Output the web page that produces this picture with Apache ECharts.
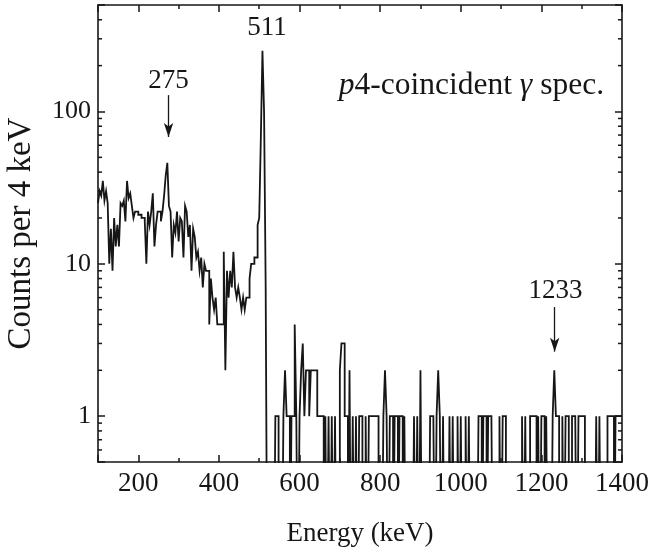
<!DOCTYPE html>
<html><head><meta charset="utf-8">
<script src="https://cdn.jsdelivr.net/npm/echarts@6/dist/echarts.min.js"></script>
<style>html,body{margin:0;padding:0;background:#fff}#c{width:648px;height:552px}</style>
</head><body><div id="c"></div>
<script>
// Histogram: 4 keV bins starting at 100 keV
const binStart = 100;
const binWidth = 4;
const energyMin = 100;
const energyMax = 1400;
// counts for 100-520 keV
const countsLow = [
 25,30,28,35,26,30,25,10,17,9,
 20,13,18,13,25,24,26,19,35,27,
 29,24,20,22,22,21,21,20,20,19,
 10,22,18,22,29,13,18,22,22,19,
 22,28,38,46,24,22,11,18,16,22,
 14,20,19,11,24,22,15,18,9,17,
 15,11,12,9,11,7,10,9,9,4,
 8,6,5,6,4,4,4,4,12,2,
 9,6,9,7,12,7,6,7,6,5,
 6,5,6,6,8,10,10,11,11,18,
 20,67,250,100,7
];
// counts for 520-1400 keV
const countsHigh = [
 0,0,0,0,0, 1,1,0,0,0, 1,2,1,1,0, 1,1,4,1,0,
 1,2,3,1,2, 2,1,2,2,2, 2,1,1,1,1, 0,1,0,1,0,
 1,0,1,0,0, 2,3,3,1,1, 0,2,0,1,0, 1,0,1,1,0,
 0,1,0,1,1, 1,1,1,1,0, 0,0,1,2,1, 0,1,1,0,1,
 1,0,1,1,0, 1,0,0,0,0, 0,1,0,1,0, 2,0,0,0,0,
 0,1,1,1,0, 1,2,1,0,1, 0,0,0,1,0, 1,0,0,1,0,
 1,0,0,1,0, 1,0,0,0,0, 0,1,1,0,1, 1,0,1,1,1,
 0,0,0,0,1, 0,1,1,0,0, 0,0,0,0,0, 0,0,0,1,0,
 1,0,0,1,1, 1,1,0,1,0, 1,1,0,1,0, 0,0,1,2,1,
 1,0,0,1,0, 1,1,0,0,1, 1,1,0,1,1, 1,1,0,0,0,
 0,0,0,0,1, 0,1,0,0,0, 0,1,1,1,1, 0,1,1,1,1
];
const xTickLabels = [200,400,600,800,1000,1200,1400];
const yTickLabels = [1,10,100];
const yMinorTicks = [0.6,0.7,0.8,0.9,2,3,4,5,6,7,8,9,20,30,40,50,60,70,80,90,200,300,400];
const peakLabels = [
  {text:'511', e:519, y:352},
  {text:'275', e:275, y:158},
  {text:'1233', e:1235, y:6.6}
];
const arrows = [
  {e:275, from:128, to:68},
  {e:1233, from:5.2, to:2.65}
];

const counts = countsLow.concat(countsHigh);
const FLOOR = 0.05; // zero counts are drawn below the log-axis minimum
// histogram outline: each bin contributes its left and right edge at its count
const histData = [];
counts.forEach((c,i) => {
  const y = c > 0 ? c : FLOOR;
  histData.push([binStart + i*binWidth, y]);
  histData.push([binStart + (i+1)*binWidth, y]);
});

const FONT = 'Liberation Serif';
const INK = '#161616';
const isDecade = v => { const l = Math.log10(v); return Math.abs(l - Math.round(l)) < 1e-6; };

const axisCommon = {
  axisLine:{show:true, onZero:false, lineStyle:{color:INK, width:1.6}},
  axisTick:{show:true, inside:true, length:7, lineStyle:{color:INK, width:1.5}},
  splitLine:{show:false}
};

const chart = echarts.init(document.getElementById('c'), null, {renderer:'canvas'});
chart.setOption({
  animation:false,
  backgroundColor:'#fff',
  grid:{left:98, right:26, top:5, bottom:90, containLabel:false, outerBoundsMode:'none'},
  title:{
    text:'{i|p}{n|4-coincident }{i|γ}{n| spec.}',
    right:39, top:65,
    textStyle:{fontWeight:'normal', rich:{
      i:{fontFamily:FONT, fontStyle:'italic', fontWeight:'normal', fontSize:31.5, color:INK},
      n:{fontFamily:FONT, fontWeight:'normal', fontSize:31.5, color:INK}
    }}
  },
  xAxis:[
    Object.assign({}, axisCommon, {
      type:'value', min:energyMin, max:energyMax, splitNumber:6, position:'bottom',
      minorTick:{show:true, splitNumber:2, length:4, lineStyle:{color:INK, width:1.5}},
      axisLabel:{fontFamily:FONT, fontSize:27, color:INK, margin:8,
        formatter:v => xTickLabels.indexOf(Math.round(v))>=0 ? String(Math.round(v)) : ''},
      name:'Energy (keV)', nameLocation:'middle', nameGap:58,
      nameTextStyle:{fontFamily:FONT, fontSize:27, color:INK}
    }),
    Object.assign({}, axisCommon, {
      type:'value', min:energyMin, max:energyMax, splitNumber:6, position:'top',
      minorTick:{show:true, splitNumber:2, length:4, lineStyle:{color:INK, width:1.5}},
      axisLabel:{show:false}
    })
  ],
  yAxis:[
    Object.assign({}, axisCommon, {
      type:'log', logBase:10, min:0.5, max:500, position:'left',
      axisLabel:{fontFamily:FONT, fontSize:26, color:INK, margin:7,
        formatter:v => (isDecade(v) && yTickLabels.indexOf(Math.round(v))>=0) ? String(Math.round(v)) : ''},
      name:'Counts per 4 keV', nameLocation:'middle', nameGap:60, nameRotate:90,
      nameTextStyle:{fontFamily:FONT, fontSize:33, color:INK}
    }),
    Object.assign({}, axisCommon, {
      type:'log', logBase:10, min:0.5, max:500, position:'right',
      axisLabel:{show:false}
    })
  ],
  series:[
    {
      type:'line', xAxisIndex:0, yAxisIndex:0, data:histData,
      showSymbol:false, symbol:'none', clip:true, sampling:null,
      lineStyle:{color:INK, width:1.8, join:'miter'},
      markPoint:{
        symbol:'circle', symbolSize:0, silent:true,
        label:{show:true, position:'inside', fontFamily:FONT, fontSize:27, color:INK,
          formatter:p => p.name},
        data: peakLabels.map(p => ({name:p.text, coord:[p.e, p.y]}))
      },
      markLine:{
        silent:true, symbol:['none','arrow'], symbolSize:[7,14],
        label:{show:false},
        lineStyle:{color:INK, width:1.3, type:'solid'},
        data: arrows.map(a => [{coord:[a.e, a.from]}, {coord:[a.e, a.to]}])
      }
    },
    {
      type:'custom', xAxisIndex:0, yAxisIndex:0, silent:true, clip:false,
      data: yMinorTicks.map(v => [energyMin, v]),
      renderItem:(params, api) => {
        const v = api.value(1);
        const pL = api.coord([energyMin, v]);
        const pR = api.coord([energyMax, v]);
        return {type:'group', children:[
          {type:'line', shape:{x1:pL[0], y1:pL[1], x2:pL[0]+4, y2:pL[1]}, style:{stroke:INK, lineWidth:1.5}},
          {type:'line', shape:{x1:pR[0], y1:pR[1], x2:pR[0]-4, y2:pR[1]}, style:{stroke:INK, lineWidth:1.5}}
        ]};
      }
    }
  ]
});
</script>
</body></html>
